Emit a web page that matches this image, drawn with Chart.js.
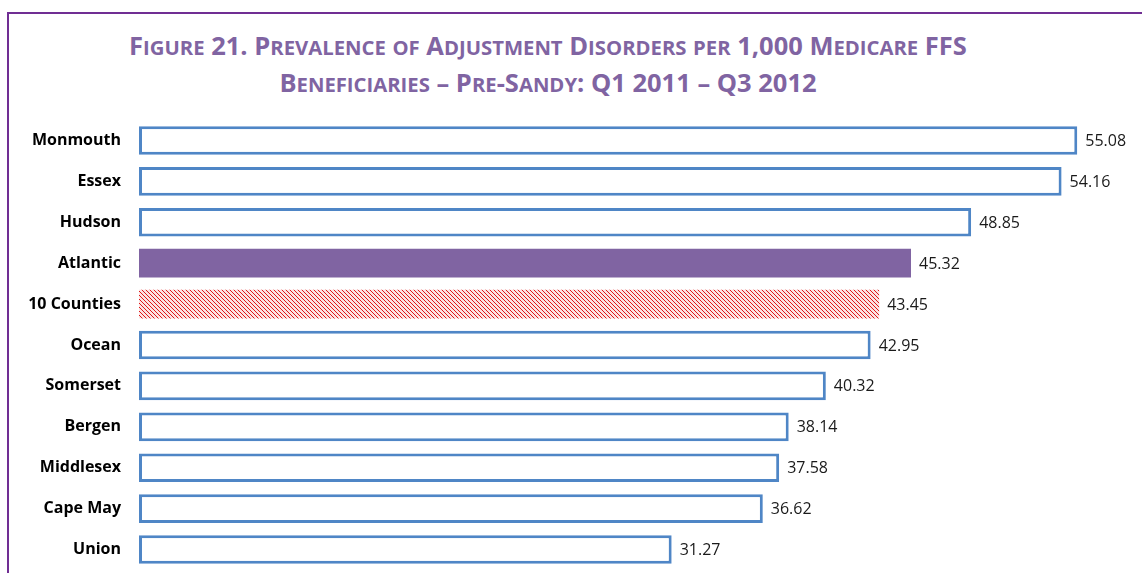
<!DOCTYPE html>
<html>
<head>
<meta charset="utf-8">
<title>Figure 21</title>
<script src="https://cdn.jsdelivr.net/npm/chart.js@4"></script>
<style>
    html, body { margin: 0; padding: 0; background: #fff; overflow: hidden; }
    #wrap { position: relative; width: 1142px; height: 573px; overflow: hidden; }
    #frame {
        position: absolute; left: 7px; top: 12px; width: 1200px; height: 700px;
        border: 2px solid #702E93; box-sizing: border-box;
    }
    #title {
        position: absolute; left: 0; top: 28px; width: 1096px; text-align: center;
        font-family: "Open Sans", sans-serif; font-weight: bold; font-size: 25.5px;
        color: #8064A2; line-height: 35px; white-space: nowrap;
    }
    #title .sc { font-size: 20.3px; text-transform: uppercase; }
    #chart { position: absolute; left: 0; top: 0; }
</style>
</head>
<body>
<div id="wrap">
    <div id="frame"></div>
    <div id="title"></div>
    <canvas id="chart" width="1142" height="573"></canvas>
</div>
<script>
// Data
const titleLines = [
    'Figure 21. Prevalence of Adjustment Disorders per 1,000 Medicare FFS',
    'Beneficiaries – Pre-Sandy: Q1 2011 – Q3 2012'
];
const counties = ['Monmouth', 'Essex', 'Hudson', 'Atlantic', '10 Counties', 'Ocean',
    'Somerset', 'Bergen', 'Middlesex', 'Cape May', 'Union'];
const prevalence = [55.08, 54.16, 48.85, 45.32, 43.45, 42.95, 40.32, 38.14, 37.58, 36.62, 31.27];

const outlineBlue = '#4F86C6';
const atlanticPurple = '#8064A2';

// Small caps title: lowercase runs are set as smaller capitals
const titleEl = document.getElementById('title');
titleLines.forEach((line, n) => {
    if (n > 0) titleEl.appendChild(document.createElement('br'));
    line.split(/([a-z]+)/).forEach(part => {
        if (!part) return;
        if (/^[a-z]+$/.test(part)) {
            const span = document.createElement('span');
            span.className = 'sc';
            span.textContent = part;
            titleEl.appendChild(span);
        } else {
            titleEl.appendChild(document.createTextNode(part));
        }
    });
});

// Red diagonal hatch for the 10 county average
function makeHatch() {
    const c = document.createElement('canvas');
    c.width = 4;
    c.height = 4;
    const g = c.getContext('2d');
    g.fillStyle = '#fbe3e3';
    g.fillRect(0, 0, 4, 4);
    g.fillStyle = '#e01818';
    for (let i = 0; i < 4; i++) {
        g.fillRect(i, i, 1, 1);
    }
    return g.createPattern(c, 'repeat');
}

const hatch = makeHatch();

const fills = counties.map(name => {
    if (name === 'Atlantic') return atlanticPurple;
    if (name === '10 Counties') return hatch;
    return '#ffffff';
});
const borders = counties.map(name => (name === 'Atlantic' || name === '10 Counties') ? 'rgba(0,0,0,0)' : outlineBlue);
const borderWidths = counties.map(name => (name === 'Atlantic' || name === '10 Counties') ? 0 : 3);

// Value labels at the end of each bar
const valueLabels = {
    id: 'valueLabels',
    afterDatasetsDraw(chart) {
        const ctx = chart.ctx;
        const meta = chart.getDatasetMeta(0);
        ctx.save();
        ctx.font = '16px "Open Sans", sans-serif';
        ctx.fillStyle = '#1a1a1a';
        ctx.textAlign = 'left';
        ctx.textBaseline = 'middle';
        meta.data.forEach((bar, i) => {
            ctx.fillText(prevalence[i].toFixed(2), bar.x + 8, bar.y + 1);
        });
        ctx.restore();
    }
};

new Chart(document.getElementById('chart'), {
    type: 'bar',
    data: {
        labels: counties,
        datasets: [{
            data: prevalence,
            backgroundColor: fills,
            borderColor: borders,
            borderWidth: borderWidths,
            borderSkipped: false,
            categoryPercentage: 1,
            barPercentage: 0.7
        }]
    },
    options: {
        indexAxis: 'y',
        responsive: false,
        animation: false,
        events: [],
        layout: {
            padding: { top: 120, right: 15, bottom: 3, left: 0 }
        },
        plugins: {
            legend: { display: false },
            tooltip: { enabled: false }
        },
        scales: {
            x: {
                display: false,
                min: 0,
                max: 58
            },
            y: {
                grid: { display: false, drawTicks: false },
                border: { display: false },
                ticks: {
                    padding: 18,
                    color: '#000',
                    font: { family: '"Open Sans", sans-serif', size: 16, weight: 'bold' }
                },
                afterFit: function(axis) {
                    axis.width = 139;
                    axis.paddingTop = 0;
                    axis.paddingBottom = 0;
                }
            }
        }
    },
    plugins: [valueLabels]
});
</script>
</body>
</html>
